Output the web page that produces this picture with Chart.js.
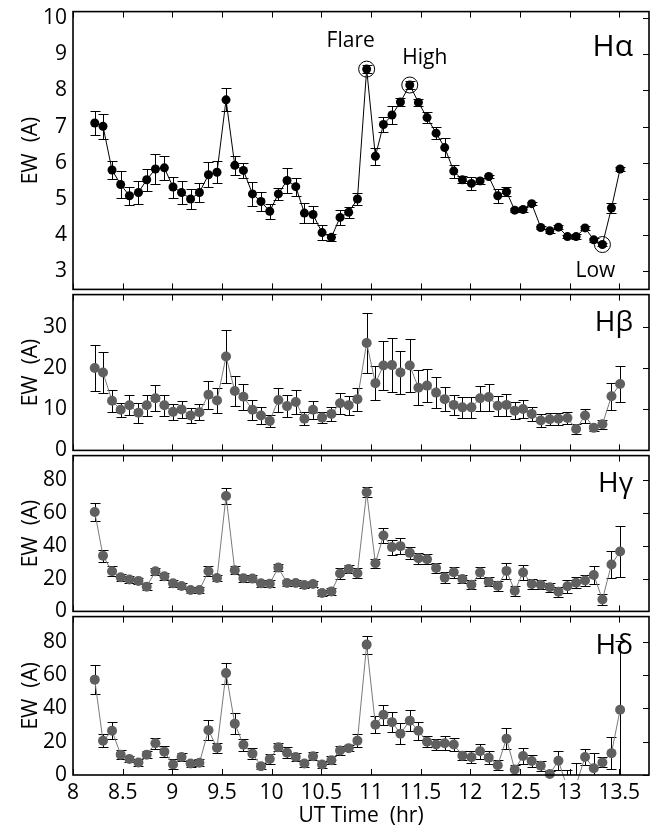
<!DOCTYPE html>
<html>
<head>
<meta charset="utf-8">
<script src="https://cdn.jsdelivr.net/npm/chart.js@4.4.1/dist/chart.umd.min.js"></script>
<style>
  html, body { margin: 0; padding: 0; background: #fff; }
  #wrap { position: relative; width: 657px; height: 829px; }
  #wrap canvas { position: absolute; left: 0; }
</style>
</head>
<body>
<div id="wrap">
  <canvas id="ha"></canvas>
  <canvas id="hb"></canvas>
  <canvas id="hg"></canvas>
  <canvas id="hd"></canvas>
</div>
<script>
// UT time of each spectrum (hr)
const ut_time = [
  8.219, 8.302, 8.393, 8.480, 8.568, 8.659, 8.742, 8.830, 8.920, 9.007,
  9.093, 9.184, 9.273, 9.364, 9.450, 9.541, 9.629, 9.716, 9.807, 9.893,
  9.981, 10.068, 10.155, 10.243, 10.330, 10.417, 10.508, 10.602, 10.689, 10.776,
  10.864, 10.957, 11.045, 11.126, 11.212, 11.297, 11.391, 11.478, 11.565, 11.656,
  11.743, 11.834, 11.921, 12.012, 12.099, 12.186, 12.277, 12.365, 12.448, 12.532,
  12.619, 12.710, 12.801, 12.888, 12.979, 13.066, 13.156, 13.244, 13.331, 13.422,
  13.509
];

// equivalent widths (A) and their errors
const ew_ha = [
  7.10, 7.01, 5.80, 5.40, 5.09, 5.18, 5.53, 5.83, 5.86, 5.33,
  5.18, 5.00, 5.18, 5.67, 5.74, 7.74, 5.93, 5.79, 5.14, 4.93,
  4.66, 5.14, 5.51, 5.34, 4.61, 4.57, 4.07, 3.94, 4.49, 4.63,
  5.00, 8.59, 6.18, 7.06, 7.32, 7.68, 8.15, 7.67, 7.25, 6.82,
  6.42, 5.77, 5.53, 5.43, 5.50, 5.62, 5.09, 5.20, 4.69, 4.71,
  4.87, 4.21, 4.12, 4.22, 3.96, 3.96, 4.20, 3.87, 3.74, 4.75,
  5.83
];
const err_ha = [
  0.33, 0.35, 0.25, 0.36, 0.25, 0.31, 0.30, 0.42, 0.33, 0.29,
  0.31, 0.27, 0.27, 0.34, 0.31, 0.32, 0.26, 0.20, 0.33, 0.27,
  0.20, 0.16, 0.34, 0.25, 0.27, 0.23, 0.21, 0.10, 0.20, 0.15,
  0.17, 0.10, 0.24, 0.21, 0.25, 0.10, 0.10, 0.10, 0.15, 0.16,
  0.27, 0.18, 0.10, 0.18, 0.08, 0.05, 0.19, 0.12, 0.06, 0.06,
  0.05, 0.05, 0.05, 0.05, 0.05, 0.08, 0.05, 0.05, 0.05, 0.15,
  0.05
];

const ew_hb = [
  20.1, 19.0, 12.1, 9.9, 11.0, 9.2, 11.0, 12.7, 11.0, 9.4,
  10.0, 8.5, 9.3, 13.6, 12.2, 22.9, 14.5, 13.1, 9.9, 8.5,
  7.2, 12.3, 10.8, 11.8, 7.7, 9.9, 8.0, 8.9, 11.5, 11.0,
  12.5, 26.2, 16.4, 20.7, 20.8, 19.0, 20.7, 15.3, 15.8, 14.1,
  12.5, 11.1, 10.5, 10.5, 12.7, 13.0, 10.9, 11.1, 9.7, 10.1,
  8.9, 7.3, 7.6, 7.7, 7.9, 5.2, 8.5, 5.5, 6.4, 13.2,
  16.2
];
const err_hb = [
  5.5, 5.1, 2.7, 1.7, 2.4, 2.4, 2.6, 3.2, 2.6, 2.0,
  2.0, 1.8, 1.9, 3.4, 3.0, 6.5, 3.7, 3.2, 2.4, 2.0,
  1.5, 2.9, 2.6, 3.0, 1.6, 2.2, 1.3, 1.8, 2.5, 2.3,
  2.8, 7.2, 4.2, 6.0, 6.5, 5.3, 6.4, 4.2, 4.1, 3.8,
  3.0, 2.4, 2.5, 2.5, 3.0, 3.3, 2.4, 2.7, 2.1, 2.2,
  1.7, 1.5, 1.5, 1.4, 1.5, 1.2, 1.7, 0.8, 1.1, 3.3,
  4.4
];

const ew_hg = [
  60.6, 33.9, 24.5, 20.8, 19.4, 18.6, 15.1, 24.5, 21.4, 17.1,
  15.5, 13.1, 13.0, 24.5, 20.4, 70.4, 25.1, 20.2, 20.0, 17.1,
  16.9, 26.7, 17.3, 17.3, 16.1, 16.7, 11.2, 12.2, 23.1, 25.9,
  23.3, 72.7, 29.4, 46.3, 39.2, 39.8, 35.7, 32.4, 31.8, 26.5,
  20.6, 23.9, 19.8, 16.3, 23.7, 18.0, 15.7, 24.7, 12.6, 23.7,
  16.7, 16.3, 14.7, 12.0, 15.3, 17.5, 18.8, 22.2, 7.3, 28.6,
  36.5
];
const err_hg = [
  5.4, 3.7, 2.9, 2.3, 2.0, 2.0, 2.3, 2.0, 2.3, 2.2,
  2.0, 2.0, 2.0, 3.1, 2.0, 4.9, 2.4, 2.0, 2.0, 2.0,
  2.0, 2.3, 2.0, 2.0, 2.0, 2.0, 2.0, 2.0, 3.1, 2.6,
  3.1, 3.2, 2.7, 4.3, 4.6, 4.9, 3.6, 3.5, 3.1, 3.3,
  3.3, 3.4, 2.5, 2.7, 3.6, 2.8, 3.0, 4.8, 3.1, 4.5,
  3.1, 2.7, 2.6, 3.0, 4.0, 3.2, 3.6, 5.6, 3.1, 8.2,
  15.6
];

const ew_hd = [
  57.2, 20.5, 26.5, 12.2, 9.6, 7.5, 12.2, 19.0, 14.0, 6.3,
  10.8, 6.9, 7.3, 26.9, 16.3, 61.1, 30.8, 18.1, 12.8, 5.3,
  9.6, 16.7, 13.4, 10.8, 6.9, 11.2, 6.3, 8.8, 14.7, 16.1,
  20.6, 78.2, 30.2, 36.1, 31.7, 24.8, 32.6, 26.5, 20.0, 18.3,
  19.0, 18.3, 11.6, 10.6, 14.2, 10.4, 5.9, 21.8, 3.3, 11.4,
  8.4, 5.5, 0.6, 8.6, -8.0, -6.0, 10.8, 4.0, 7.5, 13.1,
  39.1
];
const err_hd = [
  8.6, 4.0, 5.0, 2.6, 2.0, 2.0, 2.2, 3.3, 3.1, 3.0,
  2.3, 2.0, 2.0, 5.9, 3.0, 6.3, 6.1, 3.5, 3.2, 2.0,
  3.1, 2.5, 3.4, 2.5, 2.0, 2.4, 2.0, 2.5, 2.5, 2.0,
  4.1, 5.4, 5.3, 6.1, 5.9, 6.2, 6.4, 5.3, 3.2, 3.5,
  4.3, 3.9, 2.8, 3.5, 4.6, 3.7, 2.9, 6.1, 2.5, 4.8,
  3.6, 3.0, 2.0, 5.5, 11.0, 13.3, 5.0, 9.0, 3.0, 9.5,
  41.0
];

// tick labels
const x_ticks = [8, 8.5, 9, 9.5, 10, 10.5, 11, 11.5, 12, 12.5, 13, 13.5];
const ha_ticks = [3, 4, 5, 6, 7, 8, 9, 10];
const hb_ticks = [0, 10, 20, 30];
const hg_ticks = [0, 20, 40, 60, 80];
const hd_ticks = [0, 20, 40, 60, 80];

// circled points in the H-alpha panel
const mark_index = [31, 36, 58];
const mark_text = ['Flare', 'High', 'Low'];

const FONT = "'Open Sans', sans-serif";
const PLOT_LEFT = 73;
const PLOT_RIGHT = 649;

const line = (ctx, x1, y1, x2, y2) => {
  ctx.beginPath();
  ctx.moveTo(x1, y1);
  ctx.lineTo(x2, y2);
  ctx.stroke();
};

const panel_plugin = {
  id: 'panel',
  beforeDatasetsDraw(chart, args, o) {
    // error bars, under the markers
    const { ctx, chartArea: a, scales: { x, y } } = chart;
    const ds = chart.data.datasets[0];
    ctx.save();
    ctx.beginPath();
    ctx.rect(a.left, a.top, a.right - a.left, a.bottom - a.top);
    ctx.clip();
    ctx.strokeStyle = '#000';
    ctx.lineWidth = 1;
    ds.data.forEach((p, i) => {
      const e = ds.errors[i];
      const px = Math.round(x.getPixelForValue(p.x)) + 0.5;
      const y1 = Math.round(y.getPixelForValue(p.y + e)) + 0.5;
      const y2 = Math.round(y.getPixelForValue(p.y - e)) + 0.5;
      line(ctx, px, y1, px, y2);
      line(ctx, px - 5, y1, px + 5, y1);
      line(ctx, px - 5, y2, px + 5, y2);
    });
    ctx.restore();
  },
  afterDraw(chart, args, o) {
    const { ctx, chartArea: a, scales: { x, y } } = chart;
    ctx.save();
    ctx.strokeStyle = '#000';
    ctx.lineWidth = 1.6;
    ctx.strokeRect(a.left, a.top, a.right - a.left, a.bottom - a.top);

    // inward ticks on top, bottom and right
    ctx.lineWidth = 1;
    for (const v of x_ticks) {
      const px = Math.round(x.getPixelForValue(v)) + 0.5;
      line(ctx, px, a.bottom, px, a.bottom - 6);
      line(ctx, px, a.top, px, a.top + 6);
    }
    for (const v of o.y_ticks) {
      const py = Math.round(y.getPixelForValue(v)) + 0.5;
      line(ctx, a.right, py, a.right - 6, py);
    }

    ctx.fillStyle = '#000';
    ctx.textAlign = 'right';
    ctx.textBaseline = 'alphabetic';
    ctx.font = `${o.name_size}px ${FONT}`;
    ctx.fillText(o.name, a.right - 16, a.top + o.name_y);

    if (o.marks) {
      const ds = chart.data.datasets[0];
      const offsets = [[-16, -22], [15, -21], [-7, 32]];
      ctx.font = `21px ${FONT}`;
      ctx.textAlign = 'center';
      mark_index.forEach((idx, k) => {
        const px = x.getPixelForValue(ds.data[idx].x);
        const py = y.getPixelForValue(ds.data[idx].y);
        ctx.beginPath();
        ctx.arc(px, py, 8, 0, Math.PI * 2);
        ctx.stroke();
        ctx.fillText(mark_text[k], px + offsets[k][0], py + offsets[k][1]);
      });
    }
    ctx.restore();
  }
};

const make_panel = (id, cfg) => {
  const canvas = document.getElementById(id);
  const pad_top = 16;
  const pad_bottom = cfg.last ? 0 : 16;
  const axis_h = cfg.last ? 54 : 0;
  canvas.width = 657;
  canvas.height = cfg.bottom - cfg.top + pad_top + pad_bottom + axis_h;
  canvas.style.top = (cfg.top - pad_top) + 'px';

  return new Chart(canvas.getContext('2d'), {
    type: 'line',
    data: {
      datasets: [{
        data: cfg.values.map((v, i) => ({ x: ut_time[i], y: v })),
        errors: cfg.errors,
        borderColor: cfg.line_color,
        borderWidth: 1,
        pointRadius: cfg.radius,
        pointBackgroundColor: cfg.dot_color,
        pointBorderWidth: 0,
        tension: 0,
        clip: { left: 0, top: 0, right: 0, bottom: 5 },
      }]
    },
    options: {
      responsive: false,
      animation: false,
      devicePixelRatio: 1,
      events: [],
      layout: { padding: { top: pad_top, bottom: pad_bottom, left: 0, right: 657 - PLOT_RIGHT } },
      plugins: {
        legend: { display: false },
        tooltip: { enabled: false },
        panel: { y_ticks: cfg.y_ticks, name: cfg.name, name_y: cfg.name_y, name_size: cfg.name_size, marks: cfg.marks },
      },
      scales: {
        x: {
          type: 'linear',
          min: 8,
          max: 13.8,
          display: !!cfg.last,
          afterBuildTicks: (s) => { s.ticks = x_ticks.map(v => ({ value: v })); },
          afterFit: (s) => { s.height = axis_h; },
          grid: { display: false, drawTicks: false, tickLength: 0 },
          border: { display: false },
          ticks: { color: '#000', font: { family: FONT, size: 21 }, padding: 5, maxRotation: 0, autoSkip: false, callback: v => String(v) },
          title: { display: true, text: 'UT Time  (hr)', color: '#000', font: { family: FONT, size: 21 }, padding: 0 },
        },
        y: {
          min: cfg.min,
          max: cfg.max,
          afterBuildTicks: (s) => { s.ticks = cfg.y_ticks.map(v => ({ value: v })); },
          afterFit: (s) => { s.width = PLOT_LEFT; },
          grid: { display: false, drawTicks: false, tickLength: 0 },
          border: { display: false },
          ticks: { color: '#000', font: { family: FONT, size: 21 }, padding: 6, autoSkip: false, callback: v => String(v) },
          title: { display: true, text: 'EW  (A)', color: '#000', font: { family: FONT, size: 21 }, padding: { top: 18, bottom: 0 } },
        }
      }
    },
    plugins: [panel_plugin]
  });
};

make_panel('ha', {
  top: 9, bottom: 292, min: 2.5, max: 10.18, y_ticks: ha_ticks,
  values: ew_ha, errors: err_ha, line_color: '#000', dot_color: '#000', radius: 4.5,
  name: 'H\u03b1', name_y: 44, name_size: 30, marks: true,
});
make_panel('hb', {
  top: 292, bottom: 453, min: 0, max: 38, y_ticks: hb_ticks,
  values: ew_hb, errors: err_hb, line_color: '#7a7a7a', dot_color: '#606060', radius: 5,
  name: 'H\u03b2', name_y: 36, name_size: 28,
});
make_panel('hg', {
  top: 453, bottom: 614, min: 0, max: 95, y_ticks: hg_ticks,
  values: ew_hg, errors: err_hg, line_color: '#7a7a7a', dot_color: '#606060', radius: 5,
  name: 'H\u03b3', name_y: 36, name_size: 28,
});
make_panel('hd', {
  top: 614, bottom: 775, min: 0, max: 95, y_ticks: hd_ticks,
  values: ew_hd, errors: err_hd, line_color: '#7a7a7a', dot_color: '#606060', radius: 5,
  name: 'H\u03b4', name_y: 37, name_size: 28, last: true,
});
</script>
</body>
</html>
